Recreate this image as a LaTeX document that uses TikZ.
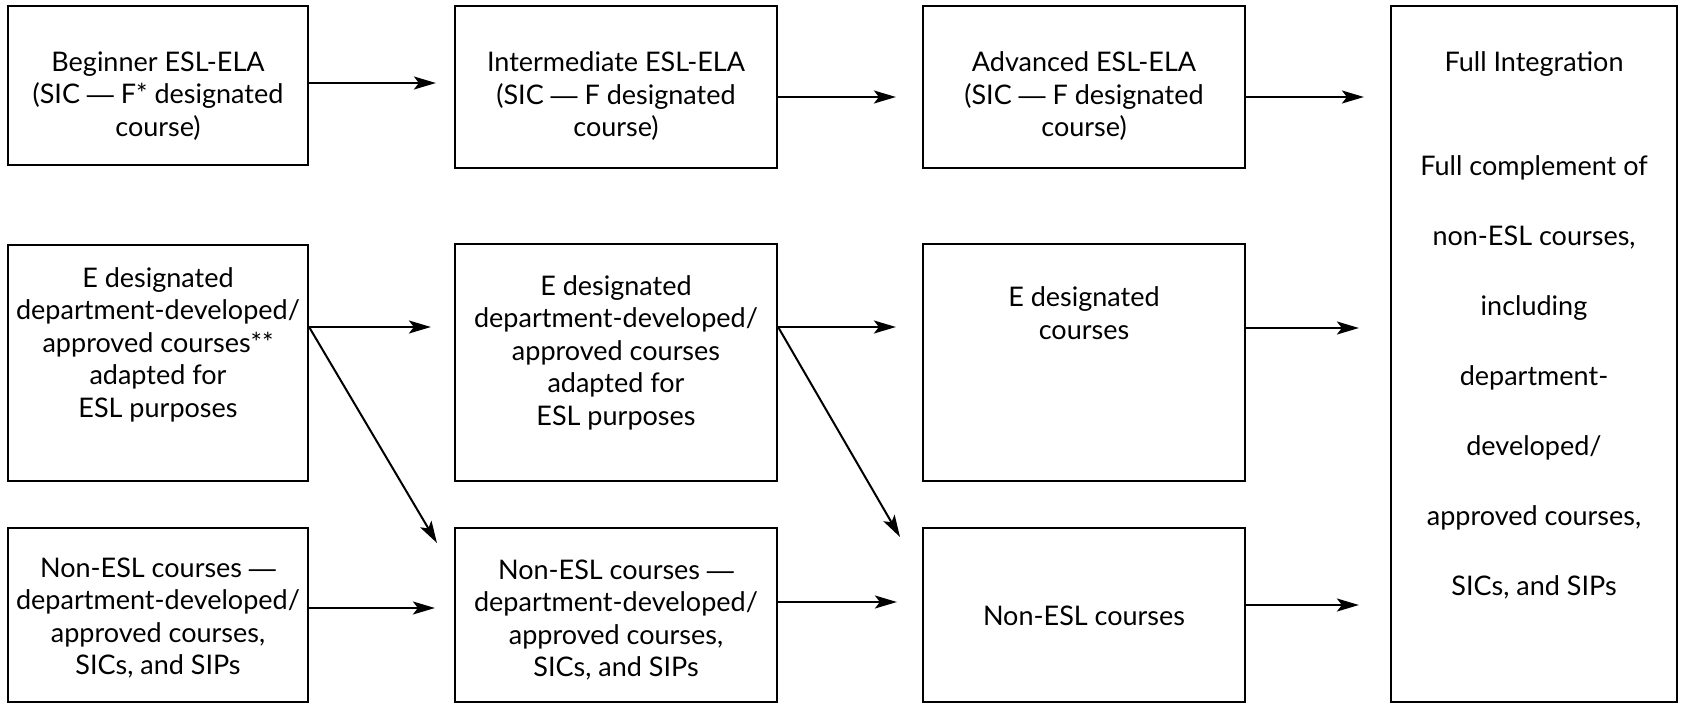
\documentclass[tikz,border=0pt]{standalone}
\usepackage{fontspec}
\setmainfont{Lato}
\newfontfamily\dashfont{Liberation Sans}
\newcommand\emd{{\dashfont —}}
\usetikzlibrary{arrows.meta}
\begin{document}
\begin{tikzpicture}[x=1pt,y=-1pt,
  box/.style={draw, rectangle, line width=2.2pt, inner sep=0pt},
  txt/.style={align=center, inner sep=0pt, font=\fontsize{27}{32.5}\selectfont,
    execute at begin node=\strut, execute at end node=\strut},
  arr/.style={line width=2pt, -{Stealth[length=22pt,width=13pt,inset=5pt]}}]
\useasboundingbox (0,0) rectangle (1682,704);
% boxes
\node[box, minimum width=300pt, minimum height=159pt] (b1) at (158,85.5) {};
\node[box, minimum width=322pt, minimum height=162pt] (b2) at (616,87) {};
\node[box, minimum width=322pt, minimum height=162pt] (b3) at (1084,87) {};
\node[box, minimum width=286pt, minimum height=696pt] (b4) at (1534,354) {};
\node[box, minimum width=300pt, minimum height=236pt] (e1) at (158,363) {};
\node[box, minimum width=322pt, minimum height=237pt] (e2) at (616,362.5) {};
\node[box, minimum width=322pt, minimum height=237pt] (e3) at (1084,362.5) {};
\node[box, minimum width=300pt, minimum height=174pt] (n1) at (158,615) {};
\node[box, minimum width=322pt, minimum height=174pt] (n2) at (616,615) {};
\node[box, minimum width=322pt, minimum height=174pt] (n3) at (1084,615) {};
% texts
\node[txt] (b1t) at (158,99) {Beginner ESL-ELA\\(SIC \emd{} F* designated\\course)};
\node[txt] (b2t) at (616,99) {Intermediate ESL-ELA\\(SIC \emd{} F designated\\course)};
\node[txt] (b3t) at (1084,99) {Advanced ESL-ELA\\(SIC \emd{} F designated\\course)};
\node[txt] (e1t) at (158,347) {E designated\\department-developed/\\approved courses**\\adapted for\\ESL purposes};
\node[txt] (e2t) at (616,355) {E designated\\department-developed/\\approved courses\\adapted for\\ESL purposes};
\node[txt] (e3t) at (1084,318) {E designated\\courses};
\node[txt] (n1t) at (158,621) {Non-ESL courses \emd\\department-developed/\\approved courses,\\SICs, and SIPs};
\node[txt] (n2t) at (616,623) {Non-ESL courses \emd\\department-developed/\\approved courses,\\SICs, and SIPs};
\node[txt] (n3t) at (1084,619) {Non-ESL courses};
\node[txt] (b4a) at (1534,65) {Full Integration};
\node[txt, font=\fontsize{27}{70}\selectfont] (b4b) at (1534,386) {Full complement of\\non-ESL courses,\\including\\department-\\developed/\\approved courses,\\SICs, and SIPs};
% helper coordinates
\coordinate (ya) at (0,83);
\coordinate (yb) at (0,97);
\coordinate (yc) at (0,327);
\coordinate (yd) at (0,328);
\coordinate (ye) at (0,608);
\coordinate (yf) at (0,602);
\coordinate (yg) at (0,605);
\coordinate (t1) at (437,543);
\coordinate (t2) at (900,537);
% arrows
\draw[arr, shorten >=18pt] (b1.east |- ya) -- (b2.west |- ya);
\draw[arr, shorten >=26pt] (b2.east |- yb) -- (b3.west |- yb);
\draw[arr, shorten >=26pt] (b3.east |- yb) -- (b4.west |- yb);
\draw[arr, shorten >=23pt] (e1.east |- yc) -- (e2.west |- yc);
\draw[arr, shorten >=26pt] (e2.east |- yc) -- (e3.west |- yc);
\draw[arr, shorten >=31pt] (e3.east |- yd) -- (b4.west |- yd);
\draw[arr] (e1.east |- yc) -- (t1);
\draw[arr] (e2.east |- yc) -- (t2);
\draw[arr, shorten >=19pt] (n1.east |- ye) -- (n2.west |- ye);
\draw[arr, shorten >=25pt] (n2.east |- yf) -- (n3.west |- yf);
\draw[arr, shorten >=31pt] (n3.east |- yg) -- (b4.west |- yg);
\end{tikzpicture}
\end{document}
